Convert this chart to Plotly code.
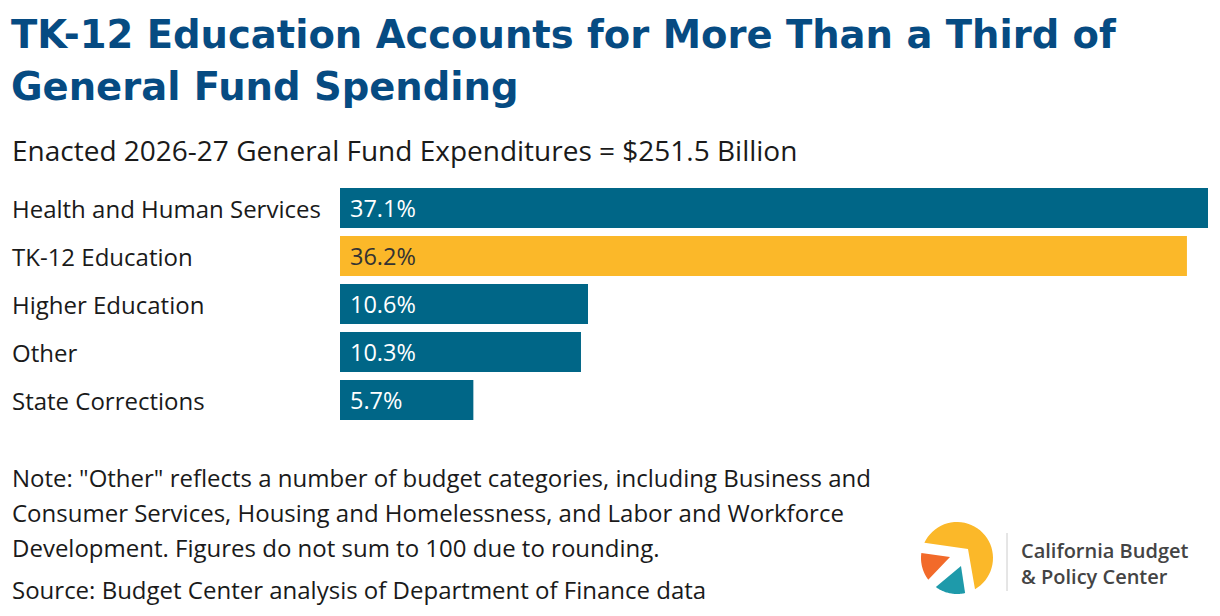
import numpy as np
import plotly.graph_objects as go

W, H = 1220, 616

categories = ["Health and Human Services", "TK-12 Education", "Higher Education", "Other", "State Corrections"]
values = [37.1, 36.2, 10.6, 10.3, 5.7]
value_labels = ["37.1%", "36.2%", "10.6%", "10.3%", "5.7%"]
highlight = "TK-12 Education"

TEAL = "#006687"
YELLOW = "#FBB829"
TITLE_BLUE = "#064B82"
TEXT = "#1a1a1a"

title_lines = ["TK-12 Education Accounts for More Than a Third of", "General Fund Spending"]
subtitle = "Enacted 2026-27 General Fund Expenditures = $251.5 Billion"
note_lines = [
    'Note: "Other" reflects a number of budget categories, including Business and',
    "Consumer Services, Housing and Homelessness, and Labor and Workforce",
    "Development. Figures do not sum to 100 due to rounding.",
]
source = "Source: Budget Center analysis of Department of Finance data"
logo_lines = ["California Budget", "& Policy Center"]


def px(x):
    return x / W


def py(y):
    return 1 - y / H


colors = [YELLOW if c == highlight else TEAL for c in categories]

fig = go.Figure()
fig.add_trace(go.Bar(
    x=values, y=categories, orientation="h",
    marker=dict(color=colors, line=dict(width=0)),
    hoverinfo="skip", showlegend=False,
))

fig.update_layout(
    width=W, height=H,
    margin=dict(l=0, r=0, t=0, b=0),
    paper_bgcolor="white", plot_bgcolor="white",
    bargap=1/6,
    xaxis=dict(domain=[px(340), px(1208)], range=[0, max(values)], visible=False, fixedrange=True),
    yaxis=dict(domain=[py(424), py(184)], categoryorder="array", categoryarray=categories,
               autorange="reversed", visible=False, fixedrange=True),
    font=dict(family="Open Sans", color=TEXT),
)

ann = []
for c in categories:
    ann.append(dict(x=px(10), xref="paper", y=c, yref="y", text=c, showarrow=False,
                    xanchor="left", yanchor="middle", font=dict(size=24, color=TEXT, family="Open Sans")))
for c, v, lab in zip(categories, values, value_labels):
    ann.append(dict(x=0, xref="x", y=c, yref="y", text=lab, showarrow=False, xshift=8,
                    xanchor="left", yanchor="middle",
                    font=dict(size=23.5, color="#333333" if c == highlight else "white", family="Open Sans")))
for i, line in enumerate(title_lines):
    ann.append(dict(x=px(9), xref="paper", y=py(35 + 51 * i), yref="paper", text=line, showarrow=False,
                    xanchor="left", yanchor="middle",
                    font=dict(size=38.5, color=TITLE_BLUE, family="DejaVu Sans", weight=700)))
ann.append(dict(x=px(10), xref="paper", y=py(150), yref="paper", text=subtitle, showarrow=False,
                xanchor="left", yanchor="middle", font=dict(size=28, color=TEXT, family="Open Sans")))
for i, line in enumerate(note_lines):
    ann.append(dict(x=px(10), xref="paper", y=py(477 + 35 * i), yref="paper", text=line, showarrow=False,
                    xanchor="left", yanchor="middle", font=dict(size=24, color=TEXT, family="Open Sans")))
ann.append(dict(x=px(10), xref="paper", y=py(589), yref="paper", text=source, showarrow=False,
                xanchor="left", yanchor="middle", font=dict(size=24, color=TEXT, family="Open Sans")))
ann.append(dict(x=px(1019), xref="paper", y=py(563), yref="paper", text="<br>".join(logo_lines),
                showarrow=False, xanchor="left", yanchor="middle", align="left",
                font=dict(size=20, color="#444444", family="Open Sans", weight=600)))

fig.update_layout(annotations=ann)

# logo drawing (decorative)
cx, cy, r = 957, 558, 36


def arc(a0, a1, n=40):
    t = np.linspace(np.radians(a0), np.radians(a1), n)
    return [(cx + r * np.cos(a), cy + r * np.sin(a)) for a in t]


def path(points):
    return "M " + " L ".join(f"{px(x):.5f},{py(y):.5f}" for x, y in points) + " Z"


yellow_pts = arc(205, 420) + [(968, 549)]
orange_pts = arc(188, 143) + [(950, 557)]
teal_pts = arc(126, 77) + [(961, 566)]
shapes = [
    dict(type="path", path=path(yellow_pts), xref="paper", yref="paper", fillcolor="#FBB829", line=dict(width=0)),
    dict(type="path", path=path(orange_pts), xref="paper", yref="paper", fillcolor="#F26A2A", line=dict(width=0)),
    dict(type="path", path=path(teal_pts), xref="paper", yref="paper", fillcolor="#1E9AAA", line=dict(width=0)),
    dict(type="line", x0=px(1007), x1=px(1007), y0=py(533), y1=py(591), xref="paper", yref="paper",
         line=dict(color="#cccccc", width=1)),
]
fig.update_layout(shapes=shapes)

fig.write_html("out.html", config={"displayModeBar": False, "staticPlot": True},
               post_script="document.body.style.margin='0';document.body.style.overflow='hidden';")
